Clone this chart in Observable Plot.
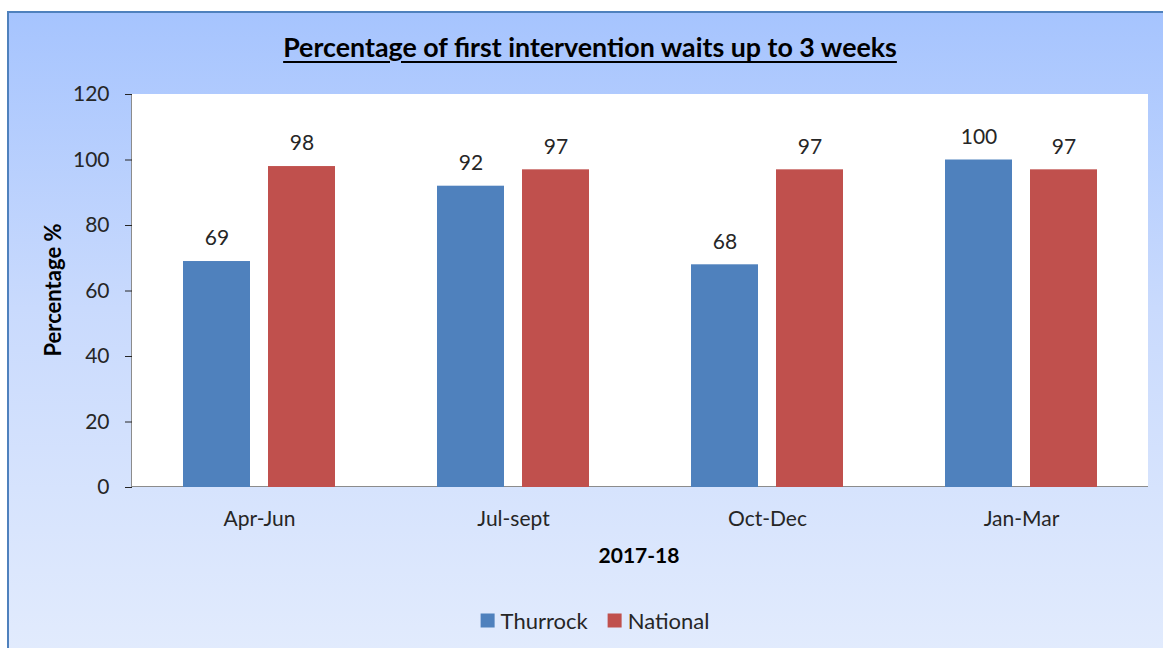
<!DOCTYPE html>
<html>
<head>
<meta charset="utf-8">
<script src="https://cdn.jsdelivr.net/npm/d3@7"></script>
<script src="https://cdn.jsdelivr.net/npm/@observablehq/plot@0.6"></script>
<style>
  html, body { margin: 0; padding: 0; background: #ffffff; }
  #wrap { position: relative; width: 1163px; height: 648px; overflow: hidden; font-family: Lato, "Open Sans", sans-serif; color: #262626; }
  #frame { position: absolute; left: 7px; top: 11px; width: 1170px; height: 660px; border: 2px solid #4f81bd; box-sizing: border-box;
           background: linear-gradient(to bottom, #a6c4fe 0%, #c9dafd 45%, #e3ecfd 100%); }
  #plotbg { position: absolute; left: 131px; top: 94px; width: 1017px; height: 393px; background: #ffffff;
            border-left: 1px solid #8c8c8c; border-bottom: 1px solid #8c8c8c; box-sizing: border-box; }
  #chart { position: absolute; left: 0; top: 0; }
  .title { position: absolute; left: 590px; top: 47px; transform: translate(-50%, -50%); font-weight: bold; font-size: 26.8px;
           text-decoration: underline; text-underline-offset: 4px; white-space: nowrap; color: #000; }
  .ylab { position: absolute; left: 52px; top: 290px; transform: translate(-50%, -50%) rotate(-90deg); font-weight: bold; font-size: 22px; white-space: nowrap; color: #000; }
  .xlab { position: absolute; left: 639px; top: 554px; transform: translate(-50%, -50%); font-weight: bold; font-size: 21px; white-space: nowrap; color: #000; }
  .legend { position: absolute; left: 595px; top: 620px; transform: translate(-50%, -50%); font-size: 22px; white-space: nowrap; display: flex; align-items: center; }
  .legend .sw { display: inline-block; width: 14px; height: 14px; margin-right: 6px; }
  .legend .item { display: flex; align-items: center; margin: 0 10px; }
</style>
</head>
<body>
<div id="wrap">
  <div id="frame"></div>
  <div id="plotbg"></div>
  <div id="chart"></div>
  <div class="title">Percentage of first intervention waits up to 3 weeks</div>
  <div class="ylab">Percentage %</div>
  <div class="xlab">2017-18</div>
  <div class="legend" id="legend"></div>
</div>
<script>
const periods = ["Apr-Jun", "Jul-sept", "Oct-Dec", "Jan-Mar"];
const seriesNames = ["Thurrock", "National"];
const thurrock = [69, 92, 68, 100];
const national = [98, 97, 97, 97];
const yTicks = [0, 20, 40, 60, 80, 100, 120];
const colors = ["#4f81bd", "#c0504d"];

const data = [];
periods.forEach((p, i) => {
  data.push({period: p, series: "Thurrock", value: thurrock[i]});
  data.push({period: p, series: "National", value: national[i]});
});

const chart = Plot.plot({
  width: 1163,
  height: 648,
  marginLeft: 131,
  marginRight: 15,
  marginTop: 94,
  marginBottom: 161,
  style: {background: "transparent", fontFamily: "Lato, 'Open Sans', sans-serif", fontSize: "21px", color: "#262626", overflow: "visible"},
  fx: {domain: periods, padding: 0, label: null, tickSize: 0, tickPadding: 24},
  x: {domain: seriesNames, paddingInner: 0.212, paddingOuter: 0.597, axis: null},
  y: {domain: [0, 120], ticks: yTicks, tickSize: 7, tickPadding: 16, label: null, tickFormat: d => String(d)},
  color: {domain: seriesNames, range: colors},
  marks: [
    Plot.barY(data, {fx: "period", x: "series", y: "value", fill: "series"}),
    Plot.text(data, {fx: "period", x: "series", y: "value", text: d => String(d.value), dy: -23, fontSize: 21, fill: "#262626"})
  ]
});
chart.querySelectorAll("[aria-label='y-axis'] line, [aria-label='y-axis tick'] line").forEach(l => l.setAttribute("stroke", "#8c8c8c"));
document.getElementById("chart").appendChild(chart);

const legend = document.getElementById("legend");
seriesNames.forEach((s, i) => {
  const item = document.createElement("span");
  item.className = "item";
  const sw = document.createElement("span");
  sw.className = "sw";
  sw.style.background = colors[i];
  item.appendChild(sw);
  item.appendChild(document.createTextNode(s));
  legend.appendChild(item);
});
</script>
</body>
</html>
